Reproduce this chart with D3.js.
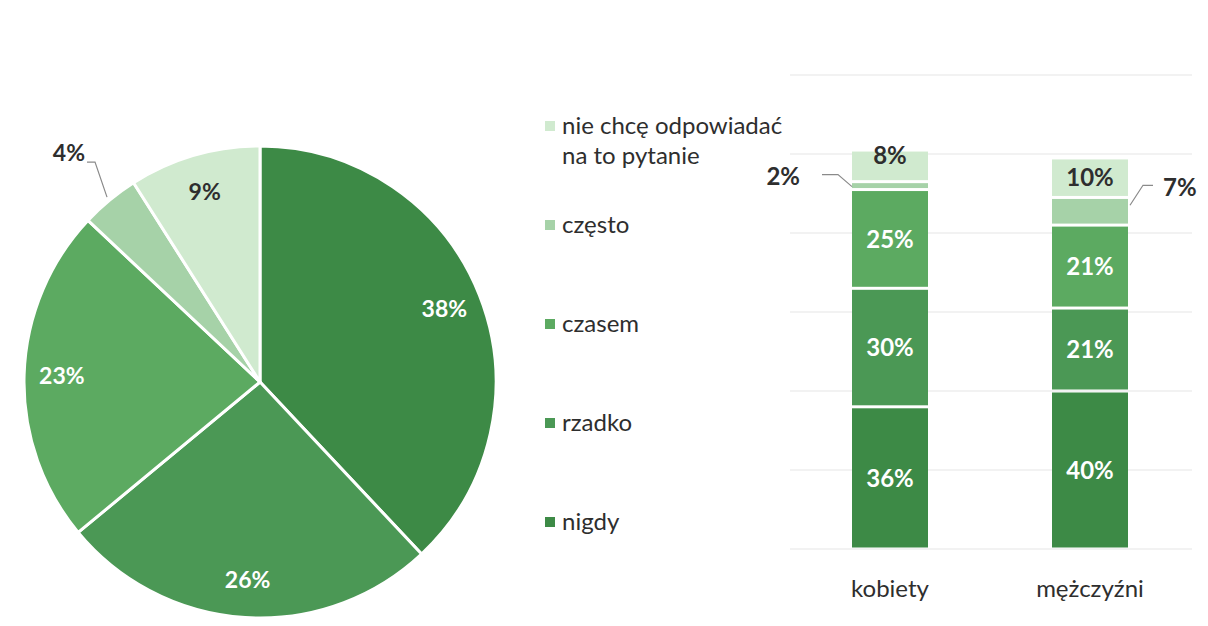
<!DOCTYPE html>
<html lang="pl">
<head>
<meta charset="utf-8">
<title>Częstotliwość – ogółem i według płci</title>
<script src="https://cdn.jsdelivr.net/npm/d3@7"></script>
<style>
  html, body { margin: 0; padding: 0; background: #ffffff; }
  svg { display: block; font-family: Lato, "Open Sans", sans-serif; }
</style>
</head>
<body>
<svg id="chart" width="1208" height="626"></svg>
<script>
// ---- data ----
const answers = ["nigdy", "rzadko", "czasem", "często", "nie chcę odpowiadać na to pytanie"];
const totalShares = [38, 26, 23, 4, 9];           // whole sample, %
const groups = ["kobiety", "mężczyźni"];
const womenShares = [36, 30, 25, 2, 8];          // %
const menShares = [40, 21, 21, 7, 10];           // %
const axisTicks = [0, 20, 40, 60, 80, 100, 120];

const colors = ["#3d8a46", "#4b9855", "#5caa61", "#a6d2a8", "#d0eacf"];
const darkText = "#2e2e2e";

const svg = d3.select("#chart");
const color = d3.scaleOrdinal().domain(answers).range(colors);

// ---- pie (whole sample) ----
const cx = 260, cy = 382, R = 236;
const pieG = svg.append("g").attr("transform", `translate(${cx},${cy})`);
const pie = d3.pie().sort(null).value(d => d.v);
const pieData = pie(answers.map((k, i) => ({ k, v: totalShares[i] })));
const arc = d3.arc().innerRadius(0).outerRadius(R);
const labelArc = d3.arc().innerRadius(R * 0.84).outerRadius(R * 0.84);

pieG.selectAll("path.slice").data(pieData).join("path")
  .attr("class", "slice")
  .attr("d", arc)
  .attr("fill", d => color(d.data.k))
  .attr("stroke", "#ffffff")
  .attr("stroke-width", 3)
  .attr("stroke-linejoin", "round");

const pieInside = pieData.filter(d => d.data.v >= 6);
pieG.selectAll("text.pl").data(pieInside).join("text")
  .attr("class", "pl")
  .attr("transform", d => `translate(${labelArc.centroid(d)})`)
  .attr("text-anchor", "middle")
  .attr("dy", "0.36em")
  .attr("font-size", 23)
  .attr("font-weight", 700)
  .attr("fill", d => answers.indexOf(d.data.k) >= 3 ? darkText : "#ffffff")
  .text(d => d.data.v + "%");

// small slice: label outside with a leader line
pieData.filter(d => d.data.v < 6).forEach(d => {
  const a = (d.startAngle + d.endAngle) / 2;
  const p0 = [Math.sin(a) * (R + 4), -Math.cos(a) * (R + 4)];
  const p1 = [p0[0] - 12, p0[1] - 35];
  const p2 = [p1[0] - 8, p1[1]];
  pieG.append("polyline")
    .attr("points", [p0, p1, p2].map(p => p.join(",")).join(" "))
    .attr("fill", "none").attr("stroke", "#8a8a8a").attr("stroke-width", 1.2);
  pieG.append("text")
    .attr("x", p2[0] - 2).attr("y", p2[1] - 9)
    .attr("text-anchor", "end").attr("dy", "0.36em")
    .attr("font-size", 23).attr("font-weight", 700).attr("fill", darkText)
    .text(d.data.v + "%");
});

// ---- legend ----
const legendItems = answers.slice().reverse();
const legendY = d3.scalePoint().domain(legendItems).range([125, 521]);
const legend = svg.append("g");
const li = legend.selectAll("g").data(legendItems).join("g")
  .attr("transform", d => `translate(545,${legendY(d)})`);
li.append("rect")
  .attr("x", 0).attr("y", -4).attr("width", 10).attr("height", 10)
  .attr("fill", d => color(d));
li.append("text")
  .attr("x", 17).attr("y", 0)
  .attr("font-size", 24).attr("fill", darkText)
  .each(function (d) {
    const t = d3.select(this);
    const lines = d.startsWith("nie chcę") ? ["nie chcę odpowiadać", "na to pytanie"] : [d];
    lines.forEach((ln, j) => t.append("tspan").attr("x", 17).attr("dy", j === 0 ? "0.36em" : "1.25em").text(ln));
  });

// ---- stacked bars by gender ----
const x = d3.scaleBand().domain(groups).range([790, 1190]).paddingInner(0.62).paddingOuter(0.31);
const y = d3.scaleLinear().domain([0, 120]).range([549, 75]);

svg.append("g").selectAll("line").data(axisTicks).join("line")
  .attr("x1", 790).attr("x2", 1192)
  .attr("y1", d => y(d)).attr("y2", d => y(d))
  .attr("stroke", "#e6e6e6").attr("stroke-width", 1.2);

const rows = groups.map((g, gi) => {
  const vals = gi === 0 ? womenShares : menShares;
  const o = { group: g };
  answers.forEach((k, i) => { o[k] = vals[i]; });
  return o;
});
const series = d3.stack().keys(answers)(rows);

const gap = 3;
const barG = svg.append("g");
series.forEach(s => {
  barG.selectAll(null).data(s).join("rect")
    .attr("x", d => x(d.data.group))
    .attr("width", x.bandwidth())
    .attr("y", d => y(d[1]) + gap / 2)
    .attr("height", d => Math.max(1, y(d[0]) - y(d[1]) - gap))
    .attr("fill", color(s.key));
});

// segment labels
const labelG = svg.append("g").attr("font-size", 24).attr("font-weight", 700);
series.forEach((s, si) => {
  s.forEach(d => {
    const v = d[1] - d[0];
    const g = d.data.group;
    const midY = (y(d[0]) + y(d[1])) / 2;
    const fill = si >= 3 ? darkText : "#ffffff";
    if (v >= 8) {
      const isTop = si === answers.length - 1 && v < 10;
      labelG.append("text")
        .attr("x", x(g) + x.bandwidth() / 2)
        .attr("y", isTop ? y(d[1]) + 5 : midY)
        .attr("dy", "0.36em").attr("text-anchor", "middle")
        .attr("fill", fill).text(v + "%");
    } else {
      // thin segment: callout beside the bar
      const left = groups.indexOf(g) === 0;
      const ax = left ? x(g) : x(g) + x.bandwidth() + 2;
      const ay = left ? midY + 1 : midY - 6;
      const ex = left ? ax - 14 : ax + 13;
      const ey = left ? ay - 12 : ay - 20;
      const fx = left ? ex - 16 : ex + 10;
      svg.append("polyline")
        .attr("points", `${ax},${ay} ${ex},${ey} ${fx},${ey}`)
        .attr("fill", "none").attr("stroke", "#8a8a8a").attr("stroke-width", 1.2);
      labelG.append("text")
        .attr("x", left ? fx - 22 : fx + 10)
        .attr("y", ey + 2)
        .attr("dy", "0.36em").attr("text-anchor", left ? "end" : "start")
        .attr("fill", darkText).text(v + "%");
    }
  });
});

// category labels
svg.append("g").selectAll("text").data(groups).join("text")
  .attr("x", d => x(d) + x.bandwidth() / 2)
  .attr("y", 588).attr("dy", "0.36em")
  .attr("text-anchor", "middle")
  .attr("font-size", 24).attr("fill", darkText)
  .text(d => d);
</script>
</body>
</html>
